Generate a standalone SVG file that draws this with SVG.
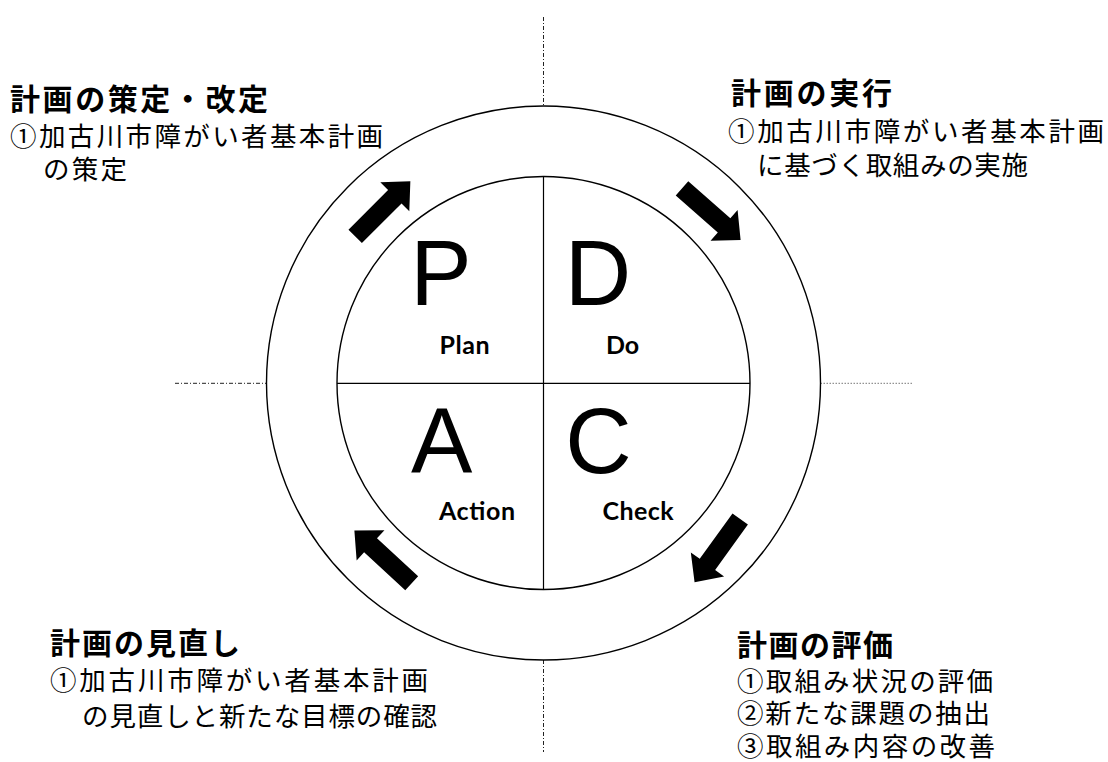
<svg xmlns="http://www.w3.org/2000/svg" xmlns:xlink="http://www.w3.org/1999/xlink" width="1108" height="762" viewBox="0 0 1108 762">
<style>
.ring{fill:none;stroke:#000;stroke-width:1.4}
.div{stroke:#000;stroke-width:1.2}
.dd{stroke:#222;stroke-width:1;stroke-dasharray:4 2 1 2;fill:none}
.dot{stroke:#777;stroke-width:1;stroke-dasharray:1.5 1.5;fill:none}
.big{font-family:"Liberation Sans",Arial,sans-serif;font-size:92px;fill:#000;text-anchor:middle}
.lbl{font-family:Lato,"Liberation Sans",sans-serif;font-weight:700;font-size:25px;fill:#000;text-anchor:middle}
.ttl{font-family:"Noto Sans CJK JP",sans-serif;font-weight:700;font-size:30px;fill:#000}
.body{font-family:"Noto Sans CJK JP",sans-serif;font-weight:400;font-size:26.5px;fill:#000}
.arr{fill:#000}
</style>
<defs>
<path id="arrow" d="M0,-9.5 L56,-9.5 L56,-20.5 L78,0 L56,20.5 L56,9.5 L0,9.5 Z"/>
</defs>
<rect width="1108" height="762" fill="#fff"/>
<g id="guides">
<line class="dd" x1="543.5" y1="17" x2="543.5" y2="106"/>
<line class="dd" x1="543.5" y1="660" x2="543.5" y2="752"/>
<line class="dd" x1="175" y1="383.3" x2="266.5" y2="383.3"/>
<line class="dot" x1="820.5" y1="383.3" x2="912" y2="383.3"/>
</g>
<g id="cycle">
<circle class="ring" cx="543.5" cy="383" r="277"/>
<circle class="ring" cx="543.5" cy="383" r="206.5"/>
<line class="div" x1="543.5" y1="176.5" x2="543.5" y2="589.5"/>
<line class="div" x1="337" y1="383.3" x2="750" y2="383.3"/>
</g>
<g id="plan">
<text class="big" x="441" y="305">P</text>
<text class="lbl" x="464.6" y="354" textLength="50">Plan</text>
</g>
<g id="do">
<text class="big" x="598" y="305">D</text>
<text class="lbl" x="622.5" y="354" textLength="33">Do</text>
</g>
<g id="action">
<text class="big" x="441.6" y="473">A</text>
<text class="lbl" x="477" y="520" textLength="76">Action</text>
</g>
<g id="check">
<text class="big" x="598.5" y="473">C</text>
<text class="lbl" x="638" y="520" textLength="71">Check</text>
</g>
<g id="connectors">
<use class="arr" xlink:href="#arrow" href="#arrow" transform="translate(355.2,236.4) rotate(-45)"/>
<use class="arr" xlink:href="#arrow" href="#arrow" transform="translate(682,188.4) rotate(41.3)"/>
<use class="arr" xlink:href="#arrow" href="#arrow" transform="translate(740.2,519) rotate(125.8)"/>
<use class="arr" xlink:href="#arrow" href="#arrow" transform="translate(411.7,583.3) rotate(222.7)"/>
</g>
<g id="note-plan">
<text class="ttl" x="10" y="110" textLength="258">計画の策定・改定</text>
<text class="body" x="10" y="146" textLength="373">①加古川市障がい者基本計画</text>
<text class="body" x="43" y="179" textLength="84">の策定</text>
</g>
<g id="note-do">
<text class="ttl" x="731" y="104" textLength="161">計画の実行</text>
<text class="body" x="728" y="141" textLength="376">①加古川市障がい者基本計画</text>
<text class="body" x="757" y="175" textLength="271">に基づく取組みの実施</text>
</g>
<g id="note-action">
<text class="ttl" x="50" y="654" textLength="190">計画の見直し</text>
<text class="body" x="50" y="690" textLength="378">①加古川市障がい者基本計画</text>
<text class="body" x="82" y="726" textLength="355">の見直しと新たな目標の確認</text>
</g>
<g id="note-check">
<text class="ttl" x="737" y="656" textLength="156">計画の評価</text>
<text class="body" x="737" y="691" textLength="256">①取組み状況の評価</text>
<text class="body" x="737" y="723" textLength="253">②新たな課題の抽出</text>
<text class="body" x="737" y="756" textLength="258">③取組み内容の改善</text>
</g>
</svg>
